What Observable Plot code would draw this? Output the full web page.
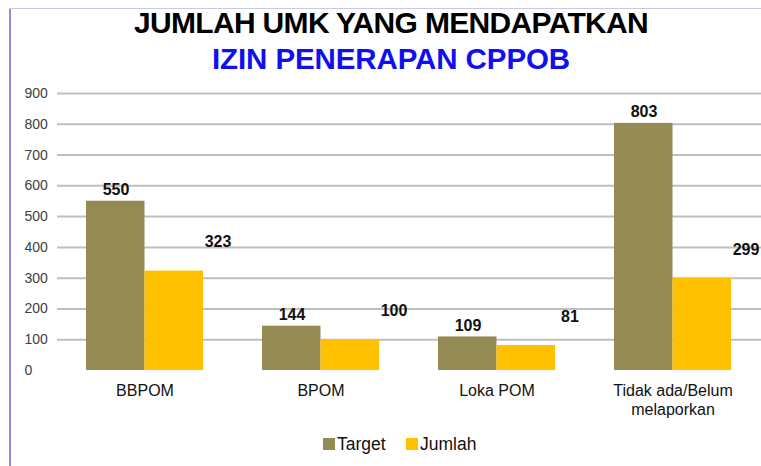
<!DOCTYPE html>
<html>
<head>
<meta charset="utf-8">
<script src="https://cdn.jsdelivr.net/npm/d3@7"></script>
<script src="https://cdn.jsdelivr.net/npm/@observablehq/plot@0.6"></script>
<style>
  html, body { margin: 0; padding: 0; background: #fff; }
  #wrap { position: relative; width: 761px; height: 466px; overflow: hidden; font-family: "Liberation Sans", Arial, sans-serif; }
  .frameL { position: absolute; left: 9px; top: 8px; width: 2px; height: 470px; background: #8c8ce0; }
  .frameT { position: absolute; left: 9px; top: 8px; width: 760px; height: 1px; background: #c8c8ec; }
  .t1, .t2 { position: absolute; left: 15px; width: 752px; text-align: center; font-weight: bold; white-space: nowrap; }
  .t1 { top: 8px; font-size: 30px; line-height: 30px; color: #000; letter-spacing: -0.67px; }
  .t2 { top: 44px; font-size: 29.5px; line-height: 30px; color: #1010ee; letter-spacing: -0.1px; }
  #chart { position: absolute; left: 0; top: 80px; }
  #legend { position: absolute; top: 434px; left: 0; width: 761px; height: 20px; font-size: 17.5px; line-height: 20px; color: #111; }
  .sw { position: absolute; top: 4px; width: 12px; height: 12px; }
  .lt { position: absolute; top: 0; }
</style>
</head>
<body>
<div id="wrap">
  <div class="frameL"></div>
  <div class="frameT"></div>
  <div class="t1">JUMLAH UMK YANG MENDAPATKAN</div>
  <div class="t2">IZIN PENERAPAN CPPOB</div>
  <div id="chart"></div>
  <div id="legend"></div>
</div>
<script>
const categories = ["BBPOM", "BPOM", "Loka POM", "Tidak ada/Belum\nmelaporkan"];
const series = ["Target", "Jumlah"];
const targetValues = [550, 144, 109, 803];
const jumlahValues = [323, 100, 81, 299];
const yTicks = [0, 100, 200, 300, 400, 500, 600, 700, 800, 900];
const gridTicks = [100, 200, 300, 400, 500, 600, 700, 800, 900];
const colors = ["#948A54", "#FFC000"];

const targetData = categories.map((c, i) => ({category: c, value: targetValues[i]}));
const jumlahData = categories.map((c, i) => ({category: c, value: jumlahValues[i]}));

const half = 58.5;

const chart = Plot.plot({
  width: 761,
  height: 340,
  marginLeft: 57,
  marginRight: 0,
  marginTop: 13,
  marginBottom: 50,
  style: {fontFamily: "'Liberation Sans', Arial, sans-serif", background: "transparent"},
  x: {domain: categories, paddingInner: 0.335, paddingOuter: 0.1675, axis: null},
  y: {domain: [0, 900], axis: null},
  marks: [
    Plot.gridY(gridTicks, {stroke: "#bfbfbf", strokeOpacity: 1, strokeWidth: 2}),
    Plot.barY(targetData, {x: "category", y: "value", fill: colors[0], insetRight: half, insetLeft: 0}),
    Plot.barY(jumlahData, {x: "category", y: "value", fill: colors[1], insetLeft: half, insetRight: 0}),
    Plot.text(targetData, {x: "category", y: "value", text: d => String(d.value), dx: -29, dy: -11, lineAnchor: "middle", fontSize: 16, fontWeight: "bold", fill: "#111"}),
    Plot.text(jumlahData, {x: "category", y: "value", text: d => String(d.value), dx: 73, dy: -29, lineAnchor: "middle", fontSize: 16, fontWeight: "bold", fill: "#111"}),
    Plot.axisY(yTicks, {tickSize: 0, textAnchor: "start", dx: -24, fontSize: 14, fill: "#404040", label: null}),
    Plot.axisX({tickSize: 0, tickPadding: 12, fontSize: 16, fill: "#111", lineHeight: 1.2, label: null})
  ]
});
document.getElementById("chart").appendChild(chart);

const legend = document.getElementById("legend");
const legendPos = [{sw: 323, tx: 337}, {sw: 406, tx: 420}];
series.forEach((s, i) => {
  const sw = document.createElement("div");
  sw.className = "sw";
  sw.style.left = legendPos[i].sw + "px";
  sw.style.background = colors[i];
  legend.appendChild(sw);
  const t = document.createElement("div");
  t.className = "lt";
  t.style.left = legendPos[i].tx + "px";
  t.textContent = s;
  legend.appendChild(t);
});
</script>
</body>
</html>
